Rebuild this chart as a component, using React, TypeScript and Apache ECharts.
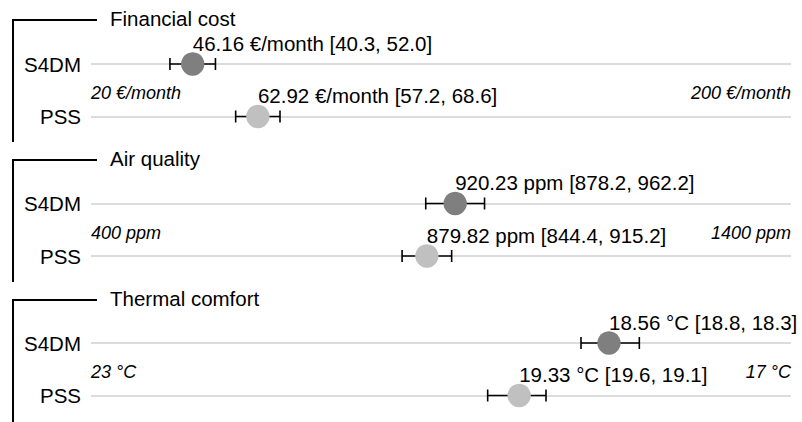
import React, { useEffect, useRef } from "react";
import * as echarts from "echarts";

const panelTitles = ["Financial cost", "Air quality", "Thermal comfort"];
const rowNames = ["S4DM", "PSS"];
const units = ["€/month", "ppm", "°C"];
const axisMin = [20, 400, 17];
const axisMax = [200, 1400, 23];
const axisInverse = [false, false, true];
const means = [
  [46.16, 62.92],
  [920.23, 879.82],
  [18.56, 19.33],
];
const ciFirst = [
  [40.3, 57.2],
  [878.2, 844.4],
  [18.8, 19.6],
];
const ciSecond = [
  [52.0, 68.6],
  [962.2, 915.2],
  [18.3, 19.1],
];
const dotColors = ["#7f7f7f", "#c0c0c0"];

const FONT = "'Liberation Sans', Arial, Helvetica, sans-serif";
const GRID_LEFT = 91;
const GRID_RIGHT = 11;
const GRID_TOP0 = 64;
const PANEL_STEP = 139.5;
const ROW_GAP = 52.5;

export default function App() {
  const ref = useRef<HTMLDivElement>(null);
  useEffect(() => {
    if (!ref.current) return;
    const chart = echarts.init(ref.current, undefined, { renderer: "svg" });

    const grids: any[] = [];
    const xAxes: any[] = [];
    const yAxes: any[] = [];
    const series: any[] = [];
    const graphics: any[] = [];

    panelTitles.forEach((title, p) => {
      const top = GRID_TOP0 + p * PANEL_STEP;
      grids.push({ left: GRID_LEFT, right: GRID_RIGHT, top, height: ROW_GAP });
      const mn = axisMin[p];
      const mx = axisMax[p];
      const unit = units[p];
      const inv = axisInverse[p];
      xAxes.push({
        type: "value",
        gridIndex: p,
        min: mn,
        max: mx,
        inverse: inv,
        position: "bottom",
        offset: -23.5,
        axisLine: { show: false },
        axisTick: { show: false },
        splitLine: { show: false },
        axisLabel: {
          show: true,
          margin: 0,
          verticalAlign: "middle",
          showMinLabel: true,
          showMaxLabel: true,
          alignMinLabel: inv ? "right" : "left",
          alignMaxLabel: inv ? "left" : "right",
          fontFamily: FONT,
          fontStyle: "italic",
          fontSize: 18,
          color: "#000",
          formatter: (v: number) => (v === mn || v === mx ? `${v} ${unit}` : ""),
        },
      });
      yAxes.push({
        type: "category",
        gridIndex: p,
        data: rowNames,
        inverse: true,
        boundaryGap: false,
        axisLine: { show: false },
        axisTick: { show: false },
        splitLine: { show: true, interval: 0, lineStyle: { color: "#d0d0d0", width: 1.5 } },
        axisLabel: {
          margin: 10,
          interval: 0,
          fontFamily: FONT,
          fontSize: 20.5,
          color: "#000",
        },
      });
      const data = rowNames.map((_, r) => [means[p][r], r, ciFirst[p][r], ciSecond[p][r]]);
      series.push({
        type: "custom",
        xAxisIndex: p,
        yAxisIndex: p,
        encode: { x: 0, y: 1 },
        data,
        clip: false,
        renderItem: (params: any, api: any) => {
          const r = api.value(1);
          const m = api.value(0);
          const a = api.value(2);
          const b = api.value(3);
          const c = api.coord([m, r]);
          const pa = api.coord([a, r]);
          const pb = api.coord([b, r]);
          const y = c[1];
          const label = `${m.toFixed(2)} ${unit} [${a.toFixed(1)}, ${b.toFixed(1)}]`;
          return {
            type: "group",
            children: [
              { type: "line", shape: { x1: pa[0], y1: y, x2: pb[0], y2: y }, style: { stroke: "#000", lineWidth: 1.6 } },
              { type: "line", shape: { x1: pa[0], y1: y - 6, x2: pa[0], y2: y + 6 }, style: { stroke: "#000", lineWidth: 1.6 } },
              { type: "line", shape: { x1: pb[0], y1: y - 6, x2: pb[0], y2: y + 6 }, style: { stroke: "#000", lineWidth: 1.6 } },
              { type: "circle", shape: { cx: c[0], cy: y, r: 11.7 }, style: { fill: dotColors[r] } },
              {
                type: "text",
                x: c[0],
                y: y - 21,
                style: {
                  text: label,
                  fill: "#000",
                  fontSize: 20.5,
                  fontFamily: FONT,
                  align: "left",
                  verticalAlign: "middle",
                },
              },
            ],
          };
        },
      });

      const bt = 20 + p * 140;
      graphics.push(
        { type: "line", shape: { x1: 13, y1: bt, x2: 97, y2: bt }, style: { stroke: "#000", lineWidth: 2 } },
        { type: "line", shape: { x1: 13, y1: bt - 1, x2: 13, y2: bt + 122 }, style: { stroke: "#000", lineWidth: 2 } },
        {
          type: "text",
          x: 110,
          y: bt - 1.5,
          style: { text: title, fill: "#000", fontSize: 20.5, fontFamily: FONT, align: "left", verticalAlign: "middle" },
        }
      );
    });

    chart.setOption({
      animation: false,
      backgroundColor: "#fff",
      grid: grids,
      xAxis: xAxes,
      yAxis: yAxes,
      series,
      graphic: graphics,
    });
    return () => chart.dispose();
  }, []);
  return (
    <div
      ref={ref}
      style={{ position: "fixed", left: 0, top: 0, width: 802, height: 422, background: "#fff" }}
    />
  );
}
